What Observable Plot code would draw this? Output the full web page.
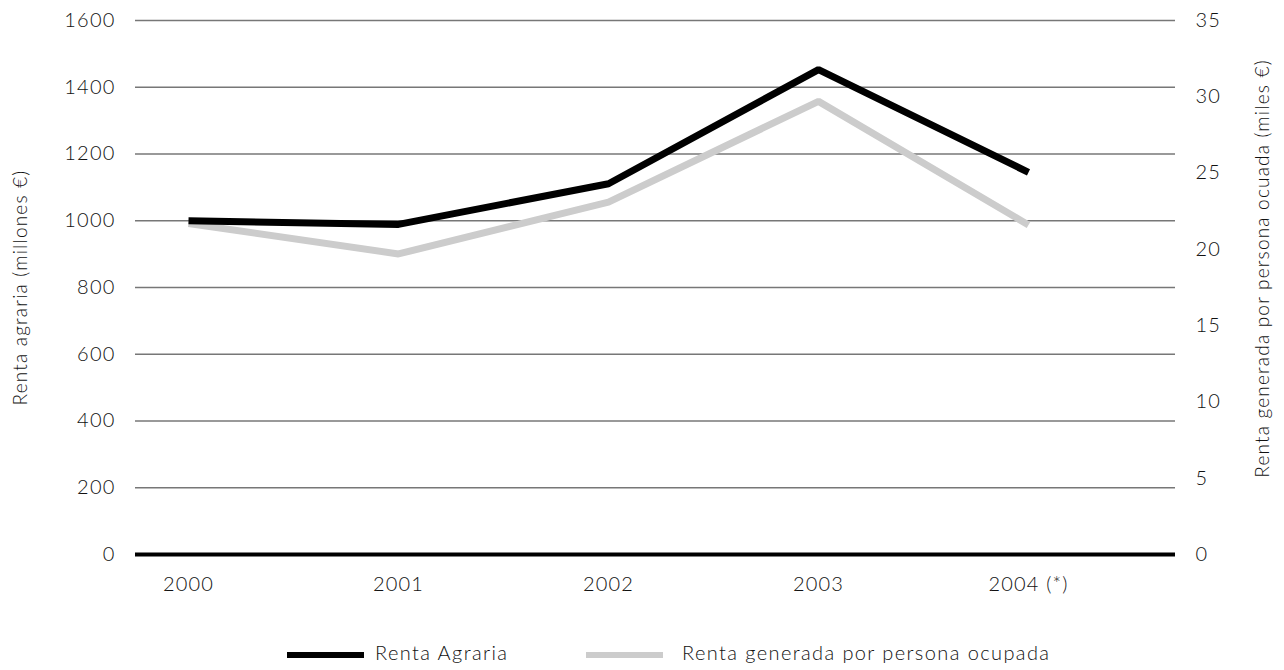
<!DOCTYPE html>
<html><head><meta charset="utf-8">
<script src="https://cdn.jsdelivr.net/npm/d3@7"></script>
<script src="https://cdn.jsdelivr.net/npm/@observablehq/plot@0.6"></script>
<style>
body{margin:0;background:#fff;font-family:"Lato","Open Sans",sans-serif;font-weight:300;color:#111}
#legend{position:relative;height:60px;font-size:20px;letter-spacing:1.4px}
.sw{position:absolute;top:42px;height:6px;width:77px}
.lt{position:absolute;top:30px}
svg text{letter-spacing:1.2px}
</style></head><body>
<div id="chart"></div>
<div id="legend"></div>
<script>
const years = ["2000","2001","2002","2003","2004 (*)"];
const rentaAgraria = [1000, 989, 1111, 1453, 1145];
const rentaPersona = [21.7, 19.7, 23.1, 29.7, 21.6];
const leftTicks = [0,200,400,600,800,1000,1200,1400,1600];
const rightTicks = [0,5,10,15,20,25,30,35];
const seriesNames = ["Renta Agraria","Renta generada por persona ocupada"];
const seriesColors = ["#000000","#cccccc"];
const leftTitle = "Renta agraria (millones €)";
const rightTitle = "Renta generada por persona ocuada (miles €)";

const k = 1600/35;
const d1 = years.map((y,i)=>({year:y, v:rentaAgraria[i]}));
const d2 = years.map((y,i)=>({year:y, v:rentaPersona[i]*k}));

const chart = Plot.plot({
  width:1284, height:610,
  marginLeft:135, marginRight:109, marginTop:20, marginBottom:56,
  style:{fontFamily:'"Lato","Open Sans",sans-serif', fontSize:"20px", fontWeight:300, color:"#111", background:"#fff"},
  x:{type:"point", domain:years, range:[188,1028], padding:0},
  y:{domain:[0,1600], range:[554,20]},
  marks:[
    Plot.gridY(leftTicks.filter(d=>d>0), {stroke:"#777", strokeOpacity:1, strokeWidth:1.3}),
    Plot.axisY(leftTicks, {anchor:"left", tickSize:0, tickPadding:20, label:null, tickFormat:d=>String(d)}),
    Plot.axisY(rightTicks.map(d=>d*k), {anchor:"right", tickSize:0, tickPadding:20, label:null, tickFormat:d=>String(Math.round(d/k)), textAnchor:"start"}),
    Plot.axisX({tickSize:0, tickPadding:22, label:null}),
    Plot.ruleY([0], {stroke:"#000", strokeWidth:4}),
    Plot.line(d2, {x:"year", y:"v", stroke:seriesColors[1], strokeWidth:7, strokeLinejoin:"miter", strokeLinecap:"butt"}),
    Plot.line(d1, {x:"year", y:"v", stroke:seriesColors[0], strokeWidth:7, strokeLinejoin:"miter", strokeLinecap:"butt"}),
    Plot.text([leftTitle], {frameAnchor:"left", dx:-115, rotate:-90, textAnchor:"middle", fontSize:19}),
    Plot.text([rightTitle], {frameAnchor:"right", dx:87, dy:-19, rotate:-90, textAnchor:"middle", fontSize:19})
  ]
});
document.getElementById("chart").appendChild(chart);

const lg = document.getElementById("legend");
const pos = [[287,375],[586,682]];
seriesNames.forEach((n,i)=>{
  const s=document.createElement("div"); s.className="sw"; s.style.left=pos[i][0]+"px"; s.style.background=seriesColors[i]; lg.appendChild(s);
  const t=document.createElement("div"); t.className="lt"; t.style.left=pos[i][1]+"px"; t.textContent=n; lg.appendChild(t);
});
</script></body></html>
